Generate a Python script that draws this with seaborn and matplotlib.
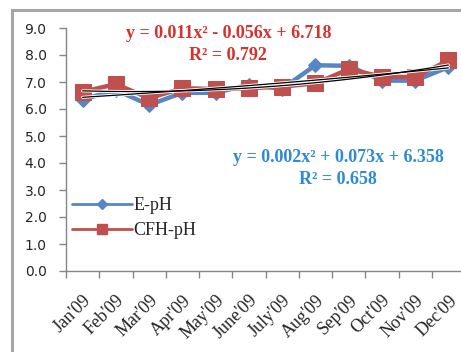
import numpy as np
import pandas as pd
import matplotlib
matplotlib.use("Agg")
import matplotlib.pyplot as plt
import seaborn as sns
from matplotlib.patches import Rectangle
from matplotlib.lines import Line2D

months = ["Jan'09", "Feb'09", "Mar'09", "Apr'09", "May'09", "June'09",
          "July'09", "Aug'09", "Sep'09", "Oct'09", "Nov'09", "Dec'09"]
e_ph = [6.35, 6.7, 6.15, 6.6, 6.6, 6.9, 6.75, 7.62, 7.6, 7.05, 7.05, 7.55]
cfh_ph = [6.64, 6.92, 6.4, 6.77, 6.74, 6.77, 6.83, 6.95, 7.47, 7.2, 7.18, 7.8]
# trendline coefficients (a, b, c) for y = a x^2 + b x + c, x = 1..12
cfh_coef = [0.011, -0.056, 6.718]
e_coef = [0.002, 0.073, 6.358]
yticks = [0.0, 1.0, 2.0, 3.0, 4.0, 5.0, 6.0, 7.0, 8.0, 9.0]

sns.set_theme(style="white")
plt.rcParams['font.family'] = ['Liberation Serif', 'DejaVu Serif']

W, H = 461, 352
fig = plt.figure(figsize=(W / 100, H / 100), dpi=100)
fig.patch.set_facecolor("white")

# outer chart border (partially clipped)
fig.patches.append(Rectangle((12 / W, -0.1), 1.2, 1 - 10 / H + 0.1, transform=fig.transFigure,
                             fill=False, edgecolor="#a6a6a6", linewidth=2.2, zorder=0))

left, right, bottom, top = 66, 465, 271, 28
ax = fig.add_axes([left / W, 1 - bottom / H, (right - left) / W, (bottom - top) / H])
ax.set_facecolor("none")

df = pd.DataFrame({"month": months, "x": np.arange(12), "E-pH": e_ph, "CFH-pH": cfh_ph})

blue = "#5686c3"
red = "#c0504d"
sns.lineplot(data=df, x="x", y="E-pH", ax=ax, color=blue, linewidth=3.2, marker="D",
             markersize=7, markeredgecolor=blue, zorder=3, legend=False)
sns.lineplot(data=df, x="x", y="CFH-pH", ax=ax, color=red, linewidth=3.2, marker="s",
             markersize=11, markeredgecolor=red, zorder=4, legend=False)

xs = np.linspace(1, 12, 100)
for coef in (cfh_coef, e_coef):
    ys = np.polyval(coef, xs)
    ax.plot(xs - 1, ys, color="white", linewidth=2.2, zorder=5)
    ax.plot(xs - 1, ys, color="black", linewidth=0.9, zorder=6)

ax.set_xlim(-0.5, 11.5)
ax.set_ylim(0, 9)
ax.set_yticks(yticks)
ax.set_yticklabels([f"{v:.1f}" for v in yticks], family=["DejaVu Sans"])
ax.set_xticks(np.arange(-0.5, 11.5, 1.0))
ax.set_xticklabels([])
ax.set_xticks(np.arange(12), minor=True)
ax.set_xticklabels(months, minor=True, rotation=45, ha="right", rotation_mode="anchor")
ax.tick_params(axis="x", which="major", length=5, width=1, color="#868686", direction="out", bottom=True)
ax.tick_params(axis="x", which="minor", length=0, pad=15, labelsize=13, bottom=True)
ax.tick_params(axis="y", length=5, width=1, color="#868686", direction="out", left=True, labelsize=10, pad=9)
ax.set_xlabel("")
ax.set_ylabel("")
for s in ("top", "right"):
    ax.spines[s].set_visible(False)
for s in ("left", "bottom"):
    ax.spines[s].set_color("#868686")
    ax.spines[s].set_linewidth(1)

handles = [Line2D([], [], color=blue, linewidth=2, marker="D", markersize=5),
           Line2D([], [], color=red, linewidth=2, marker="s", markersize=7)]
leg = ax.legend(handles, ["E-pH", "CFH-pH"], loc="center left",
                bbox_to_anchor=((72 - left) / (right - left), (bottom - 218) / (bottom - top)),
                frameon=False, fontsize=13, handlelength=3.3, handletextpad=0.1,
                labelspacing=0.45, borderaxespad=0, borderpad=0)

fig.text(229 / W, 1 - 34 / H, "y = 0.011x² - 0.056x + 6.718", color="#d9302c", fontsize=13,
         fontweight="bold", ha="center", va="center")
fig.text(228 / W, 1 - 56 / H, "R² = 0.792", color="#d9302c", fontsize=13,
         fontweight="bold", ha="center", va="center")
fig.text(338 / W, 1 - 157 / H, "y = 0.002x² + 0.073x + 6.358", color="#2e8ad4", fontsize=13,
         fontweight="bold", ha="center", va="center")
fig.text(338 / W, 1 - 179 / H, "R² = 0.658", color="#2e8ad4", fontsize=13,
         fontweight="bold", ha="center", va="center")

fig.savefig("out.png", dpi=100, facecolor="white")
